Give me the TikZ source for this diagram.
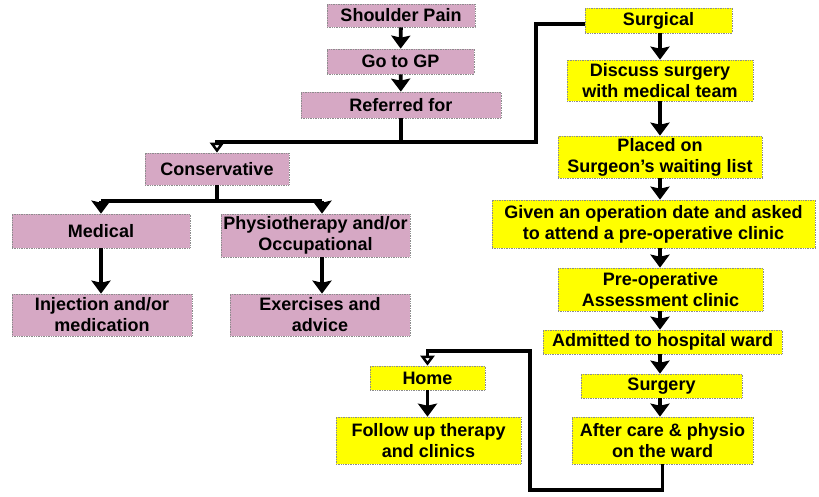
\documentclass[tikz,border=0pt]{standalone}
\usepackage{fontspec}
\setmainfont{Liberation Sans}
\usetikzlibrary{arrows.meta}
\definecolor{pinkbox}{RGB}{214,168,196}
\definecolor{yelbox}{RGB}{255,255,0}
\begin{document}
\begin{tikzpicture}[x=1pt,y=-1pt,
  box/.style={draw=black!45, densely dotted, line width=0.7pt, inner sep=0pt,
    font=\fontsize{18}{21}\selectfont\bfseries, align=center},
  pbox/.style={box, fill=pinkbox},
  ybox/.style={box, fill=yelbox},
  arr/.style={line width=3.8pt, -{Stealth[length=13pt,width=19pt,inset=2pt]}},
  oarr/.style={line width=3.8pt, -{Triangle[open,length=10pt,width=14pt,line width=3.2pt]}},
  ln/.style={line width=3.8pt}]
\useasboundingbox (0,0) rectangle (819,496);
% pink nodes
\node[pbox, minimum width=148pt, minimum height=23pt] (sp) at (401,15.5) {Shoulder Pain};
\node[pbox, minimum width=147pt, minimum height=25pt] (gp) at (400.5,61.5) {Go to GP};
\node[pbox, minimum width=200pt, minimum height=26pt] (ref) at (401,105) {Referred for};
\node[pbox, minimum width=144pt, minimum height=32pt] (cons) at (217,169) {Conservative};
\node[pbox, minimum width=178pt, minimum height=34pt] (med) at (101,231) {Medical};
\node[pbox, minimum width=189pt, minimum height=43pt] (phys) at (315.5,235.5) {Physiotherapy and/or\\Occupational};
\node[pbox, minimum width=180pt, minimum height=42pt] (inj) at (102,315) {Injection and/or\\medication};
\node[pbox, minimum width=180pt, minimum height=42pt] (exer) at (320,315) {Exercises and\\advice};
% yellow nodes
\node[ybox, minimum width=147pt, minimum height=25pt] (surg) at (658.5,20.5) {Surgical};
\node[ybox, minimum width=186pt, minimum height=41pt] (disc) at (660,80.5) {Discuss surgery\\with medical team};
\node[ybox, minimum width=204pt, minimum height=42pt] (plac) at (660,157) {Placed on\\Surgeon's waiting list};
\node[ybox, minimum width=323pt, minimum height=48pt] (given) at (653.5,224) {Given an operation date and asked\\to attend a pre-operative clinic};
\node[ybox, minimum width=205pt, minimum height=43pt] (preop) at (660.5,289.5) {Pre-operative\\Assessment clinic};
\node[ybox, minimum width=239pt, minimum height=24pt] (adm) at (662.5,342) {Admitted to hospital ward};
\node[ybox, minimum width=161pt, minimum height=24pt] (sgy) at (661.5,386) {Surgery};
\node[ybox, minimum width=181pt, minimum height=47pt] (after) at (662.5,440.5) {After care \& physio\\on the ward};
\node[ybox, minimum width=115pt, minimum height=24pt] (home) at (427.5,378) {Home};
\node[ybox, minimum width=185pt, minimum height=47pt] (follow) at (428.5,440.5) {Follow up therapy\\and clinics};
% coordinates
\coordinate (j1) at (401,142);
\coordinate (j2) at (536,142);
\coordinate (j3) at (536,24);
\coordinate (c1) at (217,201);
\coordinate (c2) at (322,201);
\coordinate (ax) at (660,0);
\coordinate (h1) at (662,490);
\coordinate (h2) at (530,490);
\coordinate (h3) at (530,351);
% left chain
\draw[arr] (sp) -- (gp);
\draw[arr] (gp) -- (ref);
\draw[ln] (ref.south) -- (j1);
\draw[oarr] (surg.west |- j3) -- (j3) -- (j2) -- (cons.north |- j2) -- (cons.north);
\draw[ln] (cons.south) -- (c1);
\draw[ln] (med.north |- c1) -- (c2);
\draw[arr] (med.north |- c1) -- (med.north);
\draw[arr] (c2) -- (c2 |- phys.north);
\draw[arr] (med.south) -- (med.south |- inj.north);
\draw[arr] (c2 |- phys.south) -- (c2 |- exer.north);
% surgical chain
\draw[arr] (ax |- surg.south) -- (ax |- disc.north);
\draw[arr] (ax |- disc.south) -- (ax |- plac.north);
\draw[arr] (ax |- plac.south) -- (ax |- given.north);
\draw[arr] (ax |- given.south) -- (ax |- preop.north);
\draw[arr] (ax |- preop.south) -- (ax |- adm.north);
\draw[arr] (ax |- adm.south) -- (ax |- sgy.north);
\draw[arr] (ax |- sgy.south) -- (ax |- after.north);
% return home
\draw[oarr] (after.south) -- (after.south |- h1) -- (h2) -- (h3) -- (home.north |- h3) -- (home.north);
\draw[arr] (home.south) -- (home.south |- follow.north);
\end{tikzpicture}
\end{document}
